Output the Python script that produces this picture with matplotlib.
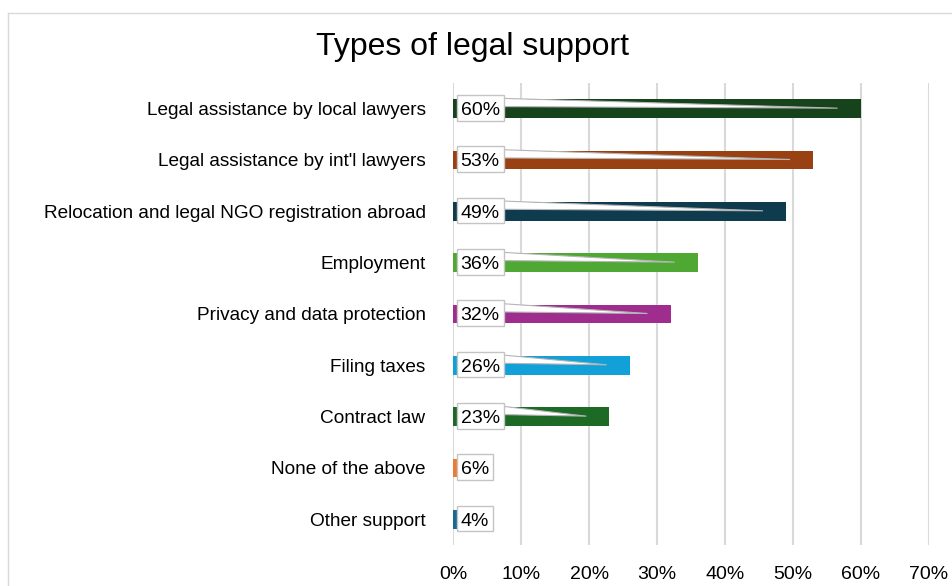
import matplotlib.pyplot as plt
from matplotlib.patches import Polygon, Rectangle
from matplotlib.lines import Line2D
from matplotlib.ticker import PercentFormatter

plt.rcParams['font.family'] = ['Liberation Sans', 'DejaVu Sans']

kategoriler = [
    "Legal assistance by local lawyers",
    "Legal assistance by int'l lawyers",
    "Relocation and legal NGO registration abroad",
    "Employment",
    "Privacy and data protection",
    "Filing taxes",
    "Contract law",
    "None of the above",
    "Other support",
]
yuzdeler = [60, 53, 49, 36, 32, 26, 23, 6, 4]
renkler = ["#16431b", "#9a4114", "#0f3b4f", "#4fa833", "#9f2d8e",
           "#12a0d8", "#1c6a25", "#ee7b32", "#1b6a8f"]
x_ticks = [0, 10, 20, 30, 40, 50, 60, 70]

fig = plt.figure(figsize=(9.52, 5.86), dpi=100)
W, H = 952, 586
ax = fig.add_axes([453.3 / W, 1 - 545 / H, (928.6 - 453.3) / W, (545 - 83) / H])

y = list(range(len(kategoriler)))
ax.barh(y, yuzdeler, height=0.37, color=renkler, zorder=2)

ax.set_xlim(0, 70)
ax.set_ylim(len(kategoriler) - 0.5, -0.5)
ax.set_xticks(x_ticks)
ax.xaxis.set_major_formatter(PercentFormatter(decimals=0))
ax.set_yticks(y)
ax.set_yticklabels(kategoriler)
ax.tick_params(axis='x', length=0, pad=15, labelsize=14)
ax.tick_params(axis='y', length=0, pad=20, labelsize=13.7)
ax.grid(axis='x', color='#d9d9d9', linewidth=1.5, zorder=0)
for s in ax.spines.values():
    s.set_visible(False)

# etiket yazilari
etiketler = []
for i, v in enumerate(yuzdeler):
    t = ax.annotate(f"{v}%", xy=(0, i), xytext=(5.2, 0), textcoords='offset points',
                    ha='left', va='center_baseline', fontsize=14, zorder=6)
    etiketler.append(t)

fig.canvas.draw()
r = fig.canvas.get_renderer()
inv = ax.transData.inverted()
px = 70 / (928.6 - 453.3)  # bir pikselin veri karsiligi
for i, (v, t) in enumerate(zip(yuzdeler, etiketler)):
    bb = t.get_window_extent(r)
    sol = inv.transform((bb.x0, 0))[0] - 3.5 * px
    sag = inv.transform((bb.x1, 0))[0] + 4 * px
    # beyaz kutu
    ax.add_patch(Rectangle((sol, i - 0.265), sag - sol, 0.5, fc='white', ec='#c4c4c4',
                           lw=1, zorder=5))
    uc = v - 3.4
    if uc <= sag:
        continue
    kama = Polygon([(sag, i - 0.2), (uc, i - 0.01), (sag, i - 0.04)], closed=True,
                   fc='white', ec='#b5b5b5', lw=0.8, zorder=4)
    ax.add_patch(kama)

fig.text(472 / W, 1 - 55 / H, "Types of legal support", ha='center', va='baseline', fontsize=23)

# dis cerceve
fig.add_artist(Line2D([8 / W, 8 / W], [0, 1 - 13 / H], color='#d9d9d9', lw=1))
fig.add_artist(Line2D([8 / W, 1], [1 - 13 / H, 1 - 13 / H], color='#d9d9d9', lw=1))

fig.savefig("out.png", dpi=100)
